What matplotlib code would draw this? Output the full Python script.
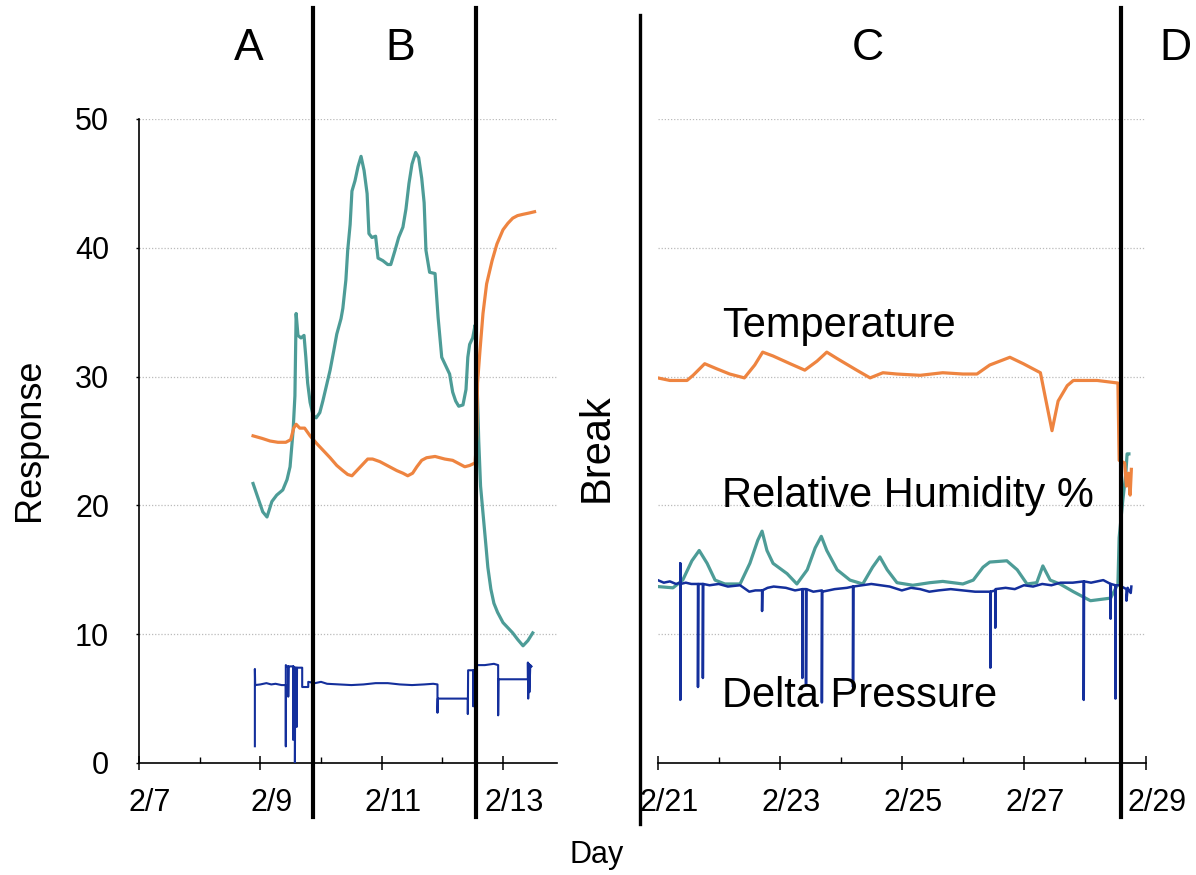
import matplotlib
matplotlib.use("Agg")
import matplotlib.pyplot as plt
from matplotlib.lines import Line2D
from matplotlib.transforms import ScaledTranslation

plt.rcParams['font.family'] = ['Liberation Sans', 'DejaVu Sans']

W, H = 1196, 875

# ---------------- data (days since 2/7 for left panel, since 2/21 for right panel)
left_ticks = [0, 2, 4, 6]
left_ticklabels = ['2/7', '2/9', '2/11', '2/13']
right_ticks = [0, 2, 4, 6, 8]
right_ticklabels = ['2/21', '2/23', '2/25', '2/27', '2/29']
y_ticks = [0, 10, 20, 30, 40, 50]

rh_left_x = [1.88, 1.96, 2.04, 2.11, 2.19, 2.27, 2.37, 2.44, 2.49, 2.54, 2.57, 2.59, 2.62, 2.67,
             2.72, 2.75, 2.78, 2.82, 2.87, 2.92, 2.98, 3.03, 3.10, 3.15, 3.21, 3.26, 3.33, 3.36,
             3.41, 3.44, 3.48, 3.51, 3.56, 3.61, 3.66, 3.71, 3.76, 3.79, 3.84, 3.90, 3.94, 4.02,
             4.10, 4.15, 4.22, 4.28, 4.35, 4.40, 4.45, 4.50, 4.56, 4.61, 4.66, 4.70, 4.73, 4.79,
             4.88, 4.93, 4.99, 5.06, 5.12, 5.17, 5.22, 5.27, 5.34, 5.39, 5.42, 5.45, 5.50, 5.54,
             5.57, 5.60, 5.63, 5.67, 5.72, 5.75, 5.80, 5.85, 5.91, 6.00, 6.08, 6.16, 6.24, 6.33,
             6.41, 6.49]
rh_left_y = [21.7, 20.6, 19.5, 19.1, 20.3, 20.8, 21.2, 22.0, 23.0, 25.8, 28.5, 34.9, 33.2, 33.0,
             33.2, 31.5, 29.5, 28.0, 27.0, 26.8, 27.2, 28.1, 29.5, 30.5, 32.0, 33.3, 34.5, 35.3,
             37.5, 39.8, 41.8, 44.4, 45.2, 46.3, 47.1, 46.0, 44.2, 41.1, 40.8, 40.9, 39.2, 39.0,
             38.7, 38.7, 39.8, 40.8, 41.6, 43.0, 45.0, 46.5, 47.4, 47.0, 45.4, 43.5, 39.8, 38.1,
             38.0, 34.6, 31.5, 30.8, 30.2, 28.8, 28.1, 27.7, 27.8, 29.0, 31.5, 32.5, 33.0, 34.0,
             30.0, 25.0, 21.5, 19.4, 16.8, 15.2, 13.5, 12.4, 11.7, 10.9, 10.5, 10.1, 9.6, 9.1,
             9.5, 10.1]

temp_left_x = [1.88, 2.03, 2.16, 2.29, 2.42, 2.50, 2.55, 2.59, 2.65, 2.73, 2.82, 2.93, 3.03, 3.15,
               3.26, 3.36, 3.44, 3.51, 3.59, 3.69, 3.77, 3.85, 3.97, 4.09, 4.25, 4.35, 4.43, 4.51,
               4.58, 4.66, 4.74, 4.88, 5.04, 5.17, 5.29, 5.37, 5.45, 5.54, 5.57, 5.58, 5.62, 5.67,
               5.73, 5.82, 5.90, 6.00, 6.08, 6.16, 6.24, 6.33, 6.43, 6.52]
temp_left_y = [25.4, 25.2, 25.0, 24.9, 24.9, 25.1, 26.0, 26.3, 26.0, 26.0, 25.4, 24.8, 24.3, 23.7,
               23.1, 22.7, 22.4, 22.3, 22.7, 23.2, 23.6, 23.6, 23.4, 23.1, 22.7, 22.5, 22.3, 22.5,
               23.0, 23.5, 23.7, 23.8, 23.6, 23.5, 23.2, 23.0, 23.1, 23.3, 25.5, 29.5, 32.0, 34.9,
               37.2, 39.0, 40.3, 41.4, 41.9, 42.3, 42.5, 42.6, 42.7, 42.8]

dp_left_x = [1.91, 1.91, 1.915, 2.00, 2.10, 2.18, 2.25, 2.35, 2.42, 2.42, 2.42, 2.44, 2.46, 2.46,
             2.465, 2.54, 2.54, 2.545, 2.57, 2.57, 2.575, 2.60, 2.60, 2.605, 2.69, 2.69, 2.79,
             2.79, 2.90, 3.00, 3.10, 3.30, 3.50, 3.70, 3.90, 4.10, 4.30, 4.50, 4.70, 4.85, 4.92,
             4.92, 4.925, 5.10, 5.30, 5.42, 5.42, 5.425, 5.51, 5.51, 5.515, 5.56, 5.56, 5.70,
             5.85, 5.92, 5.92, 5.925, 6.10, 6.30, 6.41, 6.41, 6.415, 6.43, 6.435, 6.45, 6.47]
dp_left_y = [1.3, 7.3, 6.05, 6.1, 6.2, 6.1, 6.15, 6.05, 6.05, 1.3, 7.6, 7.5, 7.5, 5.15,
             7.5, 7.5, 1.8, 7.5, 7.4, 0.0, 7.4, 7.4, 2.8, 7.4, 7.4, 5.9, 5.9,
             6.3, 6.2, 6.3, 6.15, 6.1, 6.05, 6.1, 6.2, 6.2, 6.1, 6.05, 6.1, 6.15, 6.1,
             3.9, 5.0, 5.0, 5.0, 5.0, 3.8, 7.2, 7.2, 4.4, 7.2, 7.2, 7.6, 7.6,
             7.7, 7.6, 3.7, 6.5, 6.5, 6.5, 6.5, 7.8, 5.0, 7.7, 5.5, 7.6, 7.5]

temp_right_x = [0.00, 0.20, 0.48, 0.58, 0.77, 0.97, 1.18, 1.42, 1.59, 1.72, 1.89, 2.17, 2.41, 2.61,
                2.77, 2.94, 3.26, 3.48, 3.69, 3.92, 4.30, 4.67, 5.00, 5.23, 5.44, 5.77, 5.99, 6.27,
                6.35, 6.46, 6.56, 6.71, 6.81, 7.20, 7.54, 7.56, 7.65, 7.68, 7.71, 7.74, 7.76]
temp_right_y = [29.9, 29.7, 29.7, 30.1, 31.0, 30.6, 30.2, 29.9, 30.9, 31.9, 31.6, 31.0, 30.5, 31.2,
                31.9, 31.4, 30.5, 29.9, 30.3, 30.2, 30.1, 30.3, 30.2, 30.2, 30.9, 31.5, 31.0, 30.3,
                28.4, 25.8, 28.1, 29.3, 29.7, 29.7, 29.5, 23.5, 23.3, 21.5, 22.5, 20.8, 22.8]

rh_right_x = [0.00, 0.25, 0.41, 0.56, 0.68, 0.81, 0.94, 1.10, 1.35, 1.51, 1.64, 1.71, 1.79, 1.89,
              2.12, 2.28, 2.45, 2.58, 2.68, 2.77, 2.94, 3.15, 3.36, 3.52, 3.64, 3.76, 3.92, 4.18,
              4.46, 4.67, 5.00, 5.17, 5.33, 5.44, 5.72, 5.89, 6.05, 6.21, 6.31, 6.43, 6.59, 6.81,
              7.09, 7.42, 7.54, 7.56, 7.62, 7.67, 7.69, 7.72]
rh_right_y = [13.7, 13.6, 14.2, 15.7, 16.5, 15.5, 14.2, 13.9, 13.9, 15.5, 17.3, 18.0, 16.5, 15.5,
              14.7, 13.9, 15.0, 16.7, 17.6, 16.5, 15.0, 14.2, 13.9, 15.2, 16.0, 15.0, 14.0, 13.8,
              14.0, 14.1, 13.9, 14.2, 15.2, 15.6, 15.7, 15.0, 13.9, 14.0, 15.3, 14.2, 13.9, 13.3,
              12.6, 12.8, 13.9, 17.5, 20.4, 22.5, 24.0, 24.0]

dp_right_x = [0.00, 0.10, 0.20, 0.30, 0.37, 0.37, 0.37, 0.375, 0.46, 0.55, 0.66, 0.66, 0.665,
              0.74, 0.74, 0.745, 0.85, 1.00, 1.15, 1.35, 1.50, 1.60, 1.71, 1.71, 1.715, 1.80,
              1.90, 2.10, 2.25, 2.37, 2.37, 2.375, 2.43, 2.43, 2.435, 2.55, 2.69, 2.69, 2.695,
              2.80, 2.90, 3.10, 3.20, 3.20, 3.205, 3.35, 3.50, 3.65, 3.80, 4.00, 4.15, 4.30,
              4.45, 4.60, 4.80, 5.00, 5.20, 5.45, 5.45, 5.455, 5.53, 5.53, 5.535, 5.70, 5.85,
              6.00, 6.15, 6.30, 6.45, 6.60, 6.80, 6.98, 6.98, 6.985, 7.10, 7.20, 7.30, 7.42,
              7.42, 7.425, 7.50, 7.50, 7.505, 7.56, 7.68, 7.68, 7.70, 7.72, 7.75, 7.76]
dp_right_y = [14.2, 14.0, 14.1, 13.9, 14.0, 15.5, 4.9, 13.9, 14.0, 13.9, 13.9, 5.9, 13.9,
              13.9, 6.6, 13.9, 13.8, 13.9, 13.7, 13.8, 13.3, 13.4, 13.4, 11.8, 13.4, 13.6,
              13.7, 13.6, 13.4, 13.5, 6.6, 13.5, 13.5, 6.1, 13.5, 13.3, 13.4, 4.7, 13.3,
              13.4, 13.5, 13.6, 13.7, 5.9, 13.7, 13.8, 13.9, 13.8, 13.7, 13.4, 13.6, 13.5,
              13.3, 13.4, 13.5, 13.4, 13.3, 13.3, 7.4, 13.3, 13.4, 10.5, 13.5, 13.6, 13.5,
              13.8, 13.7, 13.9, 13.8, 14.0, 14.0, 14.1, 4.9, 14.1, 14.0, 14.1, 14.2, 13.9,
              11.2, 13.9, 13.8, 5.0, 13.8, 13.8, 13.5, 12.6, 13.6, 13.4, 13.2, 13.7]

left_breaks = [2.866, 5.56]
right_breaks = [7.59]

c_temp = '#EE8440'
c_rh = '#4D9C97'
c_dp = '#142F9C'

# ---------------- figure
fig = plt.figure(figsize=(W / 100, H / 100), dpi=100)
ax1 = fig.add_axes([139 / W, (H - 763) / H, (557 - 139) / W, (763 - 119) / H])
ax2 = fig.add_axes([657.7 / W, (H - 763) / H, (1146 - 657.7) / W, (763 - 119) / H])

for ax in (ax1, ax2):
    ax.set_ylim(0, 50)
    for v in y_ticks[1:]:
        ax.axhline(v, color='#BBBBBB', lw=0.9, ls=(0, (1, 1.5)), zorder=0)
    for s in ('top', 'right'):
        ax.spines[s].set_visible(False)
    ax.spines['bottom'].set_linewidth(1.2)
    ax.tick_params(axis='x', which='major', direction='inout', length=9.4, width=1.1,
                   pad=13, labelsize=22)
    ax.tick_params(axis='x', which='minor', direction='in', length=4.3, width=1.0)

ax1.set_xlim(0, 6.89)
ax2.set_xlim(0, 8.0)

ax1.set_xticks(left_ticks)
ax1.set_xticklabels(left_ticklabels)
ax1.set_xticks([1, 3, 5], minor=True)
ax2.set_xticks(right_ticks)
ax2.set_xticklabels(right_ticklabels)
ax2.set_xticks([1, 3, 5, 7], minor=True)

ax1.set_yticks(y_ticks)
ax1.tick_params(axis='y', direction='out', length=2.5, width=1.0, pad=19, labelsize=22)
ax1.spines['left'].set_linewidth(1.2)
ax2.spines['left'].set_visible(False)
ax2.tick_params(axis='y', left=False, labelleft=False)

offset = ScaledTranslation(11 / 100, 0, fig.dpi_scale_trans)
for ax in (ax1, ax2):
    for lab in ax.get_xticklabels():
        lab.set_transform(lab.get_transform() + offset)

# series
ax1.plot(rh_left_x, rh_left_y, color=c_rh, lw=2.3, zorder=3)
ax1.plot(temp_left_x, temp_left_y, color=c_temp, lw=2.3, zorder=3)
ax1.plot(dp_left_x, dp_left_y, color=c_dp, lw=1.5, zorder=4)

ax2.plot(rh_right_x, rh_right_y, color=c_rh, lw=2.3, zorder=3)
ax2.plot(temp_right_x, temp_right_y, color=c_temp, lw=2.3, zorder=3)
ax2.plot(dp_right_x, dp_right_y, color=c_dp, lw=1.8, zorder=4)

# break lines
for xb in left_breaks:
    ax1.axvline(xb, ymin=-0.084, ymax=1.172, color='black', lw=3, clip_on=False, zorder=6)
for xb in right_breaks:
    ax2.axvline(xb, ymin=-0.084, ymax=1.172, color='black', lw=3, clip_on=False, zorder=6)
fig.add_artist(Line2D([640 / W, 640 / W], [1 - 15 / H, 1 - 824 / H], color='black', lw=2.4,
                      transform=fig.transFigure))

# texts
def ft(x, y, s, **kw):
    fig.text(x / W, 1 - y / H, s, **kw)

for lab, x in zip(['A', 'B', 'C', 'D'], [249, 400, 868, 1175]):
    ft(x, 48, lab, fontsize=32, ha='center', va='center')

ft(597, 448, 'Break', fontsize=30, rotation=90, ha='center', va='center')
ft(30, 440, 'Response', fontsize=26, rotation=90, ha='center', va='center')
ft(597, 855, 'Day', fontsize=22, ha='center', va='center')

ft(722, 337, 'Temperature', fontsize=30, ha='left', va='baseline')
ft(722, 507, 'Relative Humidity %', fontsize=30, ha='left', va='baseline')
ft(722, 707, 'Delta Pressure', fontsize=30, ha='left', va='baseline')

fig.savefig('out.png', dpi=100)
